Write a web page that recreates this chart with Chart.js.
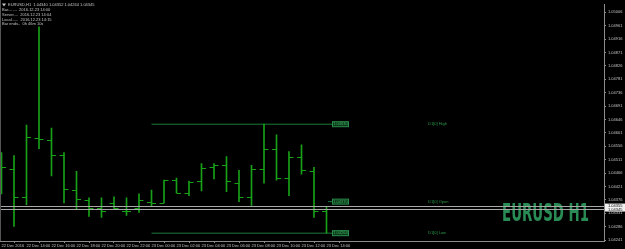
<!DOCTYPE html>
<html>
<head>
<meta charset="utf-8">
<script src="https://cdn.jsdelivr.net/npm/chart.js@4/dist/chart.umd.min.js"></script>
<style>
  html, body { margin: 0; padding: 0; background: #000; }
  #wrap { width: 625px; height: 249px; position: relative; }
</style>
</head>
<body>
<div id="wrap"><canvas id="chart"></canvas></div>
<script>
// hourly bars, 22 Dec 2016 12:00 .. 23 Dec 2016 14:00
const timeLabels = [
  "22 Dec 2016", "22 Dec 14:00", "22 Dec 16:00", "22 Dec 18:00", "22 Dec 20:00",
  "22 Dec 22:00", "23 Dec 00:00", "23 Dec 02:00", "23 Dec 04:00", "23 Dec 06:00",
  "23 Dec 08:00", "23 Dec 10:00", "23 Dec 12:00", "23 Dec 14:00",
];
const opens = [
  1.04465, 1.04479, 1.04386, 1.04584, 1.04577, 1.04525, 1.04409, 1.04376, 1.04347,
  1.04366, 1.04337, 1.04350, 1.04370, 1.04366, 1.04442, 1.04399, 1.04439, 1.04485,
  1.04492, 1.04432, 1.04386, 1.04479, 1.04548, 1.04449, 1.04521, 1.04472, 1.04340,
];
const highs = [
  1.04535, 1.04525, 1.04627, 1.04957, 1.04617, 1.04535, 1.04472, 1.04383, 1.04383,
  1.04386, 1.04383, 1.04396, 1.04409, 1.04442, 1.04449, 1.04439, 1.04498, 1.04498,
  1.04521, 1.04475, 1.04492, 1.04630, 1.04594, 1.04538, 1.04561, 1.04485, 1.04352,
];
const lows = [
  1.04396, 1.04287, 1.04360, 1.04548, 1.04456, 1.04366, 1.04343, 1.04320, 1.04317,
  1.04347, 1.04324, 1.04334, 1.04353, 1.04366, 1.04399, 1.04390, 1.04406, 1.04446,
  1.04403, 1.04370, 1.04357, 1.04432, 1.04442, 1.04390, 1.04462, 1.04317, 1.04264,
];
const closes = [
  1.04485, 1.04386, 1.04587, 1.04581, 1.04528, 1.04413, 1.04380, 1.04347, 1.04340,
  1.04350, 1.04340, 1.04376, 1.04366, 1.04442, 1.04399, 1.04436, 1.04482, 1.04492,
  1.04439, 1.04386, 1.04479, 1.04548, 1.04449, 1.04521, 1.04475, 1.04340, 1.04345,
];
const priceTicks = [
  1.05006, 1.04961, 1.04916, 1.04871, 1.04826, 1.04781, 1.04736, 1.04691, 1.04646,
  1.04601, 1.04556, 1.04511, 1.04466, 1.04421, 1.04376, 1.04331, 1.04286, 1.04241,
];
const dayStartBar = 12;
const d1High = 1.04630;
const d1Open = 1.04370;
const d1Low = 1.04264;
const bid = 1.04345;
const ask = 1.04355;
const headerLines = [
  "EURUSD,H1  1.04340 1.04352 1.04264 1.04345",
  "Bar........  2016.12.23 14:00",
  "Server....  2016.12.23 14:04",
  "Local......  2016.12.23 14:15",
  "Bar ends..  0h 46m 10s",
];

const barGreen = "#18a018";
const levelGreen = "#1d7a38";
const axisGrey = "#8c8c8c";
const textGrey = "#c4c4c4";
const tiny = { family: "Liberation Sans", size: 4 };
const lastBar = opens.length - 1;
const lineEnd = lastBar + 0.44;

const mtPlugin = {
  id: "mt4",
  beforeDraw(chart) {
    const { ctx, width, height } = chart;
    ctx.save();
    ctx.fillStyle = "#000";
    ctx.fillRect(0, 0, width, height);
    ctx.restore();
  },
  afterDatasetsDraw(chart) {
    const { ctx, chartArea } = chart;
    const x = chart.scales.x;
    const y = chart.scales.y;
    ctx.save();

    // open / close ticks
    ctx.strokeStyle = barGreen;
    ctx.lineWidth = 1;
    opens.forEach((o, i) => {
      const px = x.getPixelForValue(i);
      const yo = Math.round(y.getPixelForValue(o)) + 0.5;
      const yc = Math.round(y.getPixelForValue(closes[i])) + 0.5;
      ctx.beginPath();
      ctx.moveTo(px - 4.5, yo);
      ctx.lineTo(px, yo);
      ctx.moveTo(px, yc);
      ctx.lineTo(px + 4.5, yc);
      ctx.stroke();
    });

    // D1 level price boxes and names
    const boxX = x.getPixelForValue(lineEnd);
    const levels = [[d1High, "D1[0] High"], [d1Open, "D1[0] Open"], [d1Low, "D1[0] Low"]];
    ctx.font = "4px 'Liberation Sans'";
    ctx.textBaseline = "middle";
    levels.forEach(([p, name]) => {
      const py = y.getPixelForValue(p);
      ctx.fillStyle = "#0d3a1c";
      ctx.fillRect(boxX, py - 2.5, 17, 5);
      ctx.strokeStyle = "#2a8c4a";
      ctx.strokeRect(boxX + 0.5, py - 2.5, 16, 5);
      ctx.fillStyle = "#3cb060";
      ctx.textAlign = "center";
      ctx.fillText(p.toFixed(5), boxX + 8.5, py);
      ctx.textAlign = "left";
      ctx.fillStyle = "#2a9a4a";
      ctx.fillText(name, boxX + 96, py);
    });

    // symbol watermark
    ctx.fillStyle = "#2a8c55";
    ctx.font = "bold 24px 'Liberation Sans Narrow', 'DejaVu Sans Condensed', sans-serif";
    ctx.textAlign = "left";
    ctx.textBaseline = "alphabetic";
    ctx.fillText("EURUSD H1", 502, 221, 87);

    // bid / ask lines
    ctx.strokeStyle = "#a8a8a8";
    ctx.lineWidth = 1;
    [ask, bid].forEach((p) => {
      const py = Math.round(y.getPixelForValue(p)) + 0.5;
      ctx.beginPath();
      ctx.moveTo(chartArea.left, py);
      ctx.lineTo(chartArea.right, py);
      ctx.stroke();
    });

    // left frame
    ctx.fillStyle = "#555";
    ctx.fillRect(0, 0, 1, chartArea.bottom);
    ctx.restore();
  },
  afterDraw(chart) {
    const { ctx, chartArea } = chart;
    const y = chart.scales.y;
    ctx.save();
    // current price box on the axis
    const ya = y.getPixelForValue(ask);
    const yb = y.getPixelForValue(bid);
    ctx.fillStyle = "#f0f0f0";
    ctx.fillRect(chartArea.right + 1, ya - 2.5, 20, yb - ya + 5);
    ctx.font = "4px 'Liberation Sans'";
    ctx.textBaseline = "middle";
    ctx.textAlign = "left";
    ctx.fillStyle = "#000";
    ctx.fillText(ask.toFixed(5), chartArea.right + 4, ya);
    ctx.fillText(bid.toFixed(5), chartArea.right + 4, yb + 0.5);

    // header text
    ctx.fillStyle = textGrey;
    ctx.textBaseline = "middle";
    headerLines.forEach((line, i) => {
      ctx.fillText(line, i === 0 ? 8 : 2, 5 + i * 4.8);
    });
    ctx.beginPath();
    ctx.moveTo(2, 3.5);
    ctx.lineTo(6, 3.5);
    ctx.lineTo(4, 6.5);
    ctx.closePath();
    ctx.fill();
    ctx.restore();
  },
};

new Chart(document.getElementById("chart"), {
  type: "bar",
  data: {
    datasets: [
      {
        type: "bar",
        data: highs.map((h, i) => ({ x: i, y: [lows[i], h] })),
        backgroundColor: barGreen,
        barThickness: 1,
        borderWidth: 0,
        grouped: false,
      },
      {
        type: "line",
        data: [{ x: dayStartBar, y: d1High }, { x: lineEnd, y: d1High }],
        borderColor: levelGreen,
        borderWidth: 1,
        pointRadius: 0,
      },
      {
        type: "line",
        data: [{ x: lastBar + 0.12, y: d1Open }, { x: lineEnd, y: d1Open }],
        borderColor: levelGreen,
        borderWidth: 1,
        pointRadius: 0,
      },
      {
        type: "line",
        data: [{ x: dayStartBar, y: d1Low }, { x: lineEnd, y: d1Low }],
        borderColor: levelGreen,
        borderWidth: 1,
        pointRadius: 0,
      },
    ],
  },
  options: {
    animation: false,
    responsive: true,
    maintainAspectRatio: false,
    layout: { padding: 0 },
    plugins: { legend: { display: false }, tooltip: { enabled: false } },
    scales: {
      x: {
        type: "linear",
        min: -0.12,
        max: 48.2,
        offset: false,
        grid: { drawOnChartArea: false, drawTicks: true, tickLength: 2, color: axisGrey },
        border: { color: axisGrey },
        ticks: {
          font: tiny,
          color: textGrey,
          padding: 0,
          maxRotation: 0,
          autoSkip: false,
          align: "start",
          callback: (value, index) => timeLabels[index],
        },
        afterBuildTicks: (scale) => {
          scale.ticks = timeLabels.map((_, i) => ({ value: i * 2 }));
        },
        afterFit: (scale) => { scale.height = 8; },
      },
      y: {
        position: "right",
        min: 1.042377,
        max: 1.050324,
        grid: { drawOnChartArea: false, drawTicks: true, tickLength: 2, color: axisGrey },
        border: { color: axisGrey },
        ticks: {
          font: tiny,
          color: textGrey,
          padding: 2,
          callback: (value) => Number(value).toFixed(5),
        },
        afterBuildTicks: (scale) => {
          scale.ticks = priceTicks.map((v) => ({ value: v }));
        },
        afterFit: (scale) => { scale.width = 21; },
      },
    },
  },
  plugins: [mtPlugin],
});
</script>
</body>
</html>
